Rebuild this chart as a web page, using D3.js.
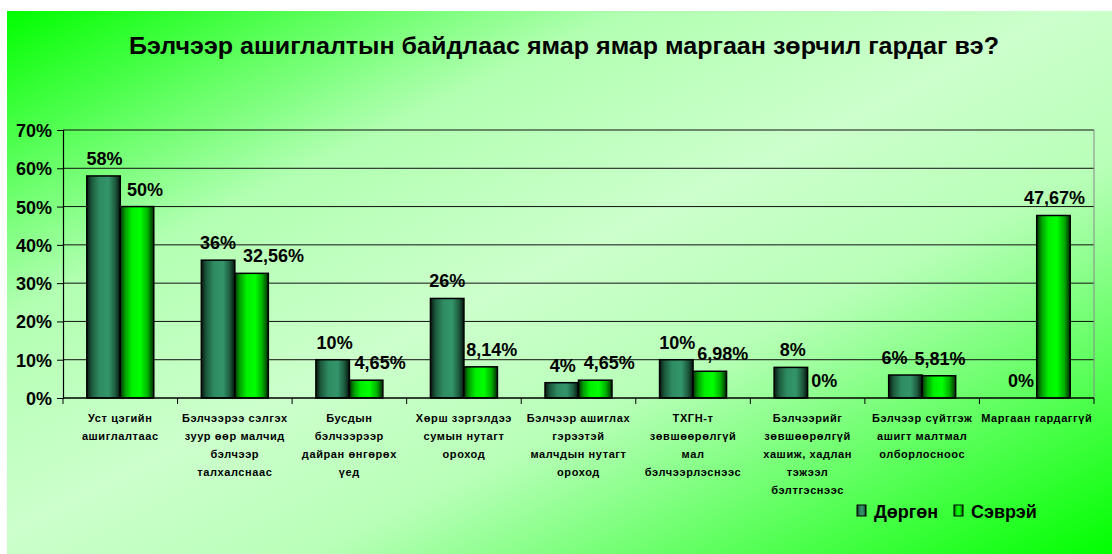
<!DOCTYPE html>
<html>
<head>
<meta charset="utf-8">
<script src="https://cdn.jsdelivr.net/npm/d3@7"></script>
<style>
  html, body { margin: 0; padding: 0; background: #ffffff; }
  svg { display: block; }
  text { font-family: Arial, "Liberation Sans", sans-serif; font-weight: bold; fill: #000; }
</style>
</head>
<body>
<svg id="chart" width="1112" height="554"></svg>
<script>
// ---------------- data ----------------
const title = "Бэлчээр ашиглалтын байдлаас ямар ямар маргаан зөрчил гардаг вэ?";
const categories = [
  ["Уст цэгийн", "ашиглалтаас"],
  ["Бэлчээрээ сэлгэх", "зуур өөр малчид", "бэлчээр", "талхалснаас"],
  ["Бусдын", "бэлчээрээр", "дайран өнгөрөх", "үед"],
  ["Хөрш зэргэлдээ", "сумын нутагт", "ороход"],
  ["Бэлчээр ашиглах", "гэрээтэй", "малчдын нутагт", "ороход"],
  ["ТХГН-т", "зөвшөөрөлгүй", "мал", "бэлчээрлэснээс"],
  ["Бэлчээрийг", "зөвшөөрөлгүй", "хашиж, хадлан", "тэжээл", "бэлтгэснээс"],
  ["Бэлчээр сүйтгэж", "ашигт малтмал", "олборлосноос"],
  ["Маргаан гардаггүй"]
];
const seriesNames = ["Дөргөн", "Сэврэй"];
const durgun = [58, 36, 10, 26, 4, 10, 8, 6, 0];
const sevrei = [50, 32.56, 4.65, 8.14, 4.65, 6.98, 0, 5.81, 47.67];
const yTicks = [0, 10, 20, 30, 40, 50, 60, 70];
// label nudges (layout only, px) as placed in the original
const nudgeDurgun = [1, 0, 2, 0, 1, 1, 2, -11, 1];
const nudgeSevrei = [8, 22, 14, 11, 14, 13, 0, 1, 1];

// ---------------- layout ----------------
const svg = d3.select("#chart");
const W = 1112, H = 554;
const plot = { left: 63, right: 1094, top: 130, bottom: 398 };

const defs = svg.append("defs");
const bg = defs.append("linearGradient").attr("id", "bg")
  .attr("x1", 0).attr("y1", 0).attr("x2", 1).attr("y2", 1);
[[0, "#00ff00"], [0.28, "#b2ffb2"], [0.48, "#ccffcc"], [0.64, "#b8ffb8"], [1, "#00ff00"]]
  .forEach(([o, c]) => bg.append("stop").attr("offset", o).attr("stop-color", c));

const gDark = defs.append("linearGradient").attr("id", "gDark")
  .attr("x1", 0).attr("y1", 0).attr("x2", 1).attr("y2", 0);
[[0, "#08180f"], [0.15, "#1c5a3d"], [0.38, "#2f8c62"], [0.65, "#33946a"], [0.85, "#1d5b3e"], [1, "#06140c"]]
  .forEach(([o, c]) => gDark.append("stop").attr("offset", o).attr("stop-color", c));
const gGreen = defs.append("linearGradient").attr("id", "gGreen")
  .attr("x1", 0).attr("y1", 0).attr("x2", 1).attr("y2", 0);
[[0, "#003000"], [0.15, "#00a000"], [0.35, "#00f000"], [0.6, "#00ff00"], [0.82, "#00b000"], [1, "#002800"]]
  .forEach(([o, c]) => gGreen.append("stop").attr("offset", o).attr("stop-color", c));
const fills = ["url(#gDark)", "url(#gGreen)"];

// background panel
svg.append("rect").attr("x", 7).attr("y", 11).attr("width", W - 7).attr("height", H - 11)
  .attr("fill", "url(#bg)");

// title
svg.append("text").attr("x", 564).attr("y", 54).attr("text-anchor", "middle")
  .style("font-size", "24px").attr("textLength", 870).attr("lengthAdjust", "spacingAndGlyphs")
  .text(title);

// scales
const x0 = d3.scaleBand().domain(d3.range(categories.length))
  .range([plot.left, plot.right]).padding(0);
const x1 = d3.scaleBand().domain([0, 1]).range([0, x0.bandwidth()])
  .paddingInner(0).paddingOuter(0.71);
const y = d3.scaleLinear().domain([0, 70]).range([plot.bottom, plot.top]);

// gridlines
svg.append("g").selectAll("line").data(yTicks.filter(d => d > 0)).join("line")
  .attr("x1", plot.left).attr("x2", plot.right)
  .attr("y1", d => y(d)).attr("y2", d => y(d))
  .attr("stroke", "#111").attr("stroke-width", 1);
// right border
svg.append("line").attr("x1", plot.right).attr("x2", plot.right)
  .attr("y1", plot.top).attr("y2", plot.bottom).attr("stroke", "#888").attr("stroke-width", 1);

// bars
const groups = svg.append("g").selectAll("g").data(categories).join("g")
  .attr("transform", (d, i) => `translate(${x0(i)},0)`);
const data = [durgun, sevrei];
groups.selectAll("rect").data((d, i) => data.map((s, k) => ({ k, v: s[i] })))
  .join("rect")
  .attr("x", d => x1(d.k)).attr("width", x1.bandwidth())
  .attr("y", d => y(d.v)).attr("height", d => y(0) - y(d.v))
  .attr("fill", d => fills[d.k])
  .attr("stroke", d => d.v > 0 ? "#000" : "none").attr("stroke-width", 1.5);

// value labels
const fmt = v => String(v).replace(".", ",") + "%";
const nudges = [nudgeDurgun, nudgeSevrei];
groups.selectAll("text.val").data((d, i) => data.map((s, k) => ({ k, v: s[i], i })))
  .join("text").attr("class", "val")
  .attr("x", d => x1(d.k) + x1.bandwidth() / 2 + nudges[d.k][d.i])
  .attr("y", d => y(d.v) - 11)
  .attr("text-anchor", "middle").style("font-size", "18px")
  .text(d => fmt(d.v));

// y axis
const yAxis = d3.axisLeft(y).tickValues(yTicks).tickFormat(d => d + "%").tickSize(6).tickPadding(5);
const gy = svg.append("g").attr("transform", `translate(${plot.left},0)`).call(yAxis);
gy.select(".domain").attr("stroke", "#000").attr("stroke-width", 1.2);
gy.selectAll(".tick line").attr("stroke", "#000");
gy.selectAll(".tick text").style("font-size", "18px").style("font-family", "Arial, 'Liberation Sans', sans-serif")
  .style("font-weight", "bold").attr("fill", "#000").attr("dy", "0.36em");

// x axis (ticks at category boundaries)
svg.append("line").attr("x1", plot.left).attr("x2", plot.right)
  .attr("y1", plot.bottom).attr("y2", plot.bottom).attr("stroke", "#000").attr("stroke-width", 1.5);
svg.append("g").selectAll("line").data(d3.range(categories.length + 1)).join("line")
  .attr("x1", i => i < categories.length ? x0(i) : plot.right)
  .attr("x2", i => i < categories.length ? x0(i) : plot.right)
  .attr("y1", plot.bottom).attr("y2", plot.bottom + 6).attr("stroke", "#000");

// category labels
groups.append("text").attr("text-anchor", "middle").style("font-size", "11px")
  .style("letter-spacing", "0.6px")
  .selectAll("tspan").data(d => d).join("tspan")
  .attr("x", x0.bandwidth() / 2)
  .attr("y", (d, j) => 422 + j * 18)
  .text(d => d);

// legend
const legend = svg.append("g").attr("transform", "translate(857,505)");
const lx = [0, 97];
seriesNames.forEach((name, k) => {
  legend.append("rect").attr("x", lx[k]).attr("y", 0).attr("width", 9).attr("height", 11)
    .attr("fill", fills[k]).attr("stroke", "#000").attr("stroke-width", 1);
  legend.append("text").attr("x", lx[k] + 17).attr("y", 13).style("font-size", "18px").text(name);
});
</script>
</body>
</html>
